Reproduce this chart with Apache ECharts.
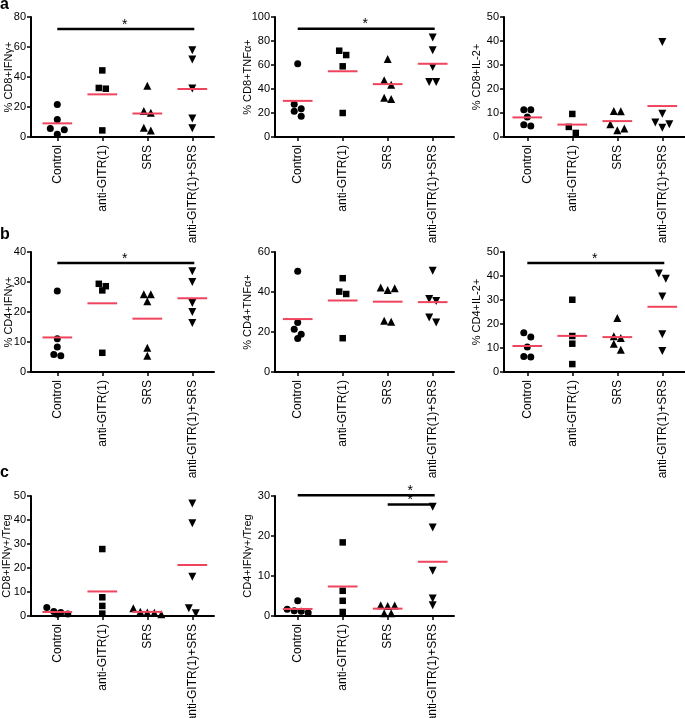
<!DOCTYPE html>
<html><head><meta charset="utf-8">
<script src="https://cdn.jsdelivr.net/npm/echarts@6/dist/echarts.min.js"></script>
<style>html,body{margin:0;padding:0;background:#fff}#c{width:685px;height:718px}</style>
</head><body><div id="c"></div>
<script>
// ---------- data ----------
const categories = ['Control', 'anti-GITR(1)', 'SRS', 'anti-GITR(1)+SRS'];

const cd8IFNg = [[21.6, 11.6, 5.6, 4.9, 1.8], [44.4, 32.7, 32.2, 4.4], [34.2, 17.3, 16.2, 6.2, 4.4], [57.8, 51.6, 32.4, 12.4, 5.8]];
const cd8TNFa = [[61.1, 27.2, 23.6, 21.4, 17.2], [71.9, 68.3, 58.9, 20], [65, 47.2, 43.6, 32.8, 31.7], [83, 72.2, 58.3, 45.8, 45.8]];
const cd8IL2  = [[11.4, 11.4, 8.3, 5.1, 4.6], [9.6, 4.2, 1.7], [10.8, 10.7, 5.3, 3.5, 2.8], [39.6, 9.7, 6, 5.3, 3.9]];
const cd4IFNg = [[27, 11.1, 8.3, 5.8, 5.4], [29.4, 28.6, 27.2, 6.4], [25.9, 25.9, 23.6, 8.1, 5.4], [33.6, 30, 23, 20, 16.3]];
const cd4TNFa = [[50.4, 24.8, 21.4, 18.9, 16.8], [46.9, 40.2, 39, 16.9], [42.2, 41.9, 41, 25.6, 25.1], [50.6, 36.5, 35.5, 27.3, 24.8]];
const cd4IL2  = [[16.4, 14.6, 10.4, 6.5, 6.25], [30.1, 15, 11.8, 3.3], [22.5, 14.9, 14.2, 11.8, 9.3], [41, 38.9, 31.5, 15.7, 8.75]];
const cd8Treg = [[3.5, 1.9, 1.5, 0.8, 0.7], [27.9, 7.8, 4.2, 1], [3.2, 1.8, 1.5, 1.4, 0.7], [46.9, 38.6, 16.4, 3.2, 1.1]];
const cd4Treg = [[3.8, 1.7, 1.3, 1.2, 0.8], [18.4, 6.3, 3.8, 1], [2.7, 2.6, 2.5, 0.7, 0.7], [27.3, 22.1, 11.3, 4.4, 2.7]];

const yTitles = ['% CD8+IFNγ+', '% CD8+TNFα+', '% CD8+IL-2+', '% CD4+IFNγ+', '% CD4+TNFα+', '% CD4+IL-2+', 'CD8+IFNγ+/Treg', 'CD4+IFNγ+/Treg'];
const yMax  = [80, 100, 50, 40, 60, 50, 50, 30];
const yStep = [20, 20, 10, 10, 20, 10, 10, 10];
// significance annotations: [fromGroup, toGroup, yValue, starGroupPosition]
const sigA1 = [[0, 3, 72, 1.5]];
const sigA2 = [[0, 3, 90.3, 1.5]];
const sigB1 = [[0, 3, 36.3, 1.5]];
const sigB3 = [[0, 3, 45.4, 1.5]];
const sigC2 = [[0, 3, 30.2, 2.5], [2, 3, 27.9, 2.5]];
const panelLetters = ['a', 'b', 'c'];

// ---------- layout ----------
const panelData = [cd8IFNg, cd8TNFa, cd8IL2, cd4IFNg, cd4TNFa, cd4IL2, cd8Treg, cd4Treg];
const panelSig  = [sigA1, sigA2, [], sigB1, [], sigB3, [], sigC2];
const rowTop = [17, 252, 496];
const plotH = 120;
const colLeft = [31, 275, 504];
const colWidth = [183, 179, 181];
const firstCenter = [57.3, 297.7, 527.3];
const catPx = 45;
const nameGaps = [[17, 22, 22], [17, 22, 22], [19, 22, 22]];
const letterBase = [10, 240, 478];
const FONT = '"Liberation Sans", Arial, Helvetica, sans-serif';
const symbols = ['circle', 'rect', 'triangle', 'triangle'];
const symRot = [0, 0, 0, 180];
const symSize = [7, 6.5, 8, 8];
const MEAN_COLOR = '#f0445e';
const STEP_PX = 7, ROW_PX = 6.5;

function rowPattern(n) {
  if (n === 3) return [-1, 1, 0];
  const r = [];
  for (let k = 0; k < n; k++) r.push(k - (n - 1) / 2);
  return r;
}
function swarm(values, pxPerUnit) {
  const idx = values.map((v, i) => i).sort((a, b) => values[b] - values[a]);
  const offs = new Array(values.length).fill(0);
  let i = 0;
  while (i < idx.length) {
    let j = i + 1;
    while (j < idx.length && (values[idx[i]] - values[idx[j]]) * pxPerUnit < ROW_PX) j++;
    const pat = rowPattern(j - i);
    for (let k = 0; k < j - i; k++) offs[idx[i + k]] = pat[k] * STEP_PX;
    i = j;
  }
  return offs;
}

const grid = [], xAxis = [], yAxis = [], series = [];
panelData.forEach((groups, p) => {
  const row = Math.floor(p / 3), col = p % 3;
  const left = colLeft[col], width = colWidth[col];
  const xMin = -(firstCenter[col] - left) / catPx;
  const xMax = xMin + width / catPx;
  grid.push({ left: left, top: rowTop[row], width: width, height: plotH, containLabel: false, outerBoundsMode: 'none' });
  xAxis.push({
    type: 'value', gridIndex: p, min: xMin, max: xMax,
    axisLine: { show: true, onZero: false, lineStyle: { color: '#000', width: 2 } },
    axisTick: { show: true, customValues: [0, 1, 2, 3], length: 4, lineStyle: { color: '#000', width: 1.5 } },
    axisLabel: { show: true, customValues: [0, 1, 2, 3], formatter: v => categories[Math.round(v)], rotate: 90, margin: 8,
      fontSize: 12, color: '#000', fontFamily: FONT },
    splitLine: { show: false }
  });
  yAxis.push({
    type: 'value', gridIndex: p, min: 0, max: yMax[p], interval: yStep[p],
    name: yTitles[p], nameLocation: 'middle', nameRotate: 90, nameGap: nameGaps[row][col], nameMoveOverlap: false,
    nameTextStyle: { fontSize: 11, color: '#000', fontFamily: FONT },
    axisLine: { show: true, onZero: false, lineStyle: { color: '#000', width: 2 } },
    axisTick: { show: true, inside: false, length: 4, lineStyle: { color: '#000', width: 1.5 } },
    axisLabel: { fontSize: 11, color: '#000', margin: 5, fontFamily: FONT },
    splitLine: { show: false }
  });
  const pxPerUnit = plotH / yMax[p];
  const means = [];
  groups.forEach((vals, g) => {
    const offs = swarm(vals, pxPerUnit);
    series.push({
      type: 'scatter', xAxisIndex: p, yAxisIndex: p, clip: false,
      symbol: symbols[g], symbolRotate: symRot[g], symbolSize: symSize[g],
      itemStyle: { color: '#000', opacity: 1 },
      data: vals.map((v, i) => [g + offs[i] / catPx, v]),
      z: 2, silent: true
    });
    means.push([g, vals.reduce((a, b) => a + b, 0) / vals.length]);
  });
  series.push({
    type: 'custom', xAxisIndex: p, yAxisIndex: p, z: 3, silent: true,
    encode: { x: 0, y: 1 },
    data: means,
    renderItem: (params, api) => {
      const x = api.value(0), y = api.value(1);
      const a = api.coord([x - 0.33, y]), b = api.coord([x + 0.33, y]);
      return { type: 'line', shape: { x1: a[0], y1: a[1], x2: b[0], y2: b[1] }, style: { stroke: MEAN_COLOR, lineWidth: 2 } };
    }
  });
  if (panelSig[p].length) {
    series.push({
      type: 'custom', xAxisIndex: p, yAxisIndex: p, z: 3, silent: true, clip: false,
      encode: { x: [0, 1], y: 2 },
      data: panelSig[p],
      renderItem: (params, api) => {
        const a = api.coord([api.value(0), api.value(2)]);
        const b = api.coord([api.value(1), api.value(2)]);
        const s = api.coord([api.value(3), api.value(2)]);
        return { type: 'group', children: [
          { type: 'line', shape: { x1: a[0], y1: a[1], x2: b[0] + 2, y2: b[1] }, style: { stroke: '#000', lineWidth: 2.5 } },
          { type: 'text', x: s[0], y: s[1] - 4, style: { text: '*', fontSize: 14, fontFamily: FONT, fill: '#000', align: 'center', verticalAlign: 'middle' } }
        ] };
      }
    });
  }
});

const graphic = panelLetters.map((t, r) => ({
  type: 'text', left: 0, top: letterBase[r] - 13,
  style: { text: t, fontSize: 16, fontWeight: 'bold', fontFamily: FONT, fill: '#000' }
}));

const chart = echarts.init(document.getElementById('c'), null, { renderer: 'canvas' });
chart.setOption({ animation: false, backgroundColor: '#fff', grid, xAxis, yAxis, series, graphic });
</script>
</body></html>
